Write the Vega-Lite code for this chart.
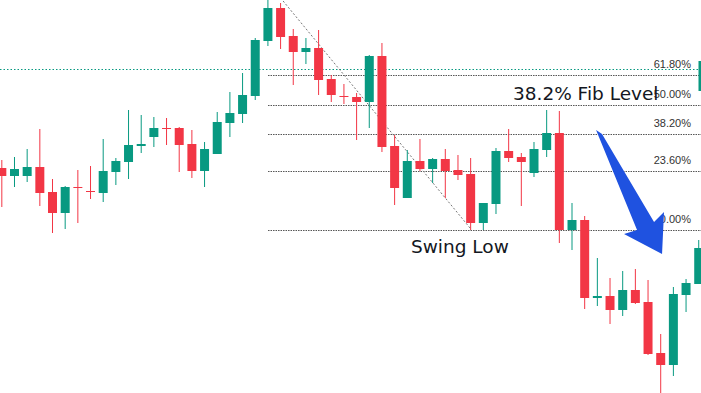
{
  "$schema": "https://vega.github.io/schema/vega-lite/v6.json",
  "width": 701,
  "height": 393,
  "padding": 0,
  "autosize": {"type": "none"},
  "background": "#ffffff",
  "config": {"view": {"stroke": null}},
  "datasets": {
    "candles": [
      {"i":1,"o":225,"h":233,"l":186,"c":217},
      {"i":2,"o":217,"h":236,"l":206,"c":224},
      {"i":3,"o":217,"h":244,"l":211,"c":226},
      {"i":4,"o":226,"h":264,"l":187,"c":200},
      {"i":5,"o":201,"h":214,"l":160,"c":180},
      {"i":6,"o":180,"h":207,"l":164,"c":206},
      {"i":7,"o":206,"h":223,"l":170,"c":205},
      {"i":8,"o":202,"h":227,"l":194,"c":201},
      {"i":9,"o":200,"h":254,"l":191,"c":222},
      {"i":10,"o":221,"h":235,"l":208,"c":232},
      {"i":11,"o":231,"h":283,"l":214,"c":248},
      {"i":12,"o":247,"h":278,"l":240,"c":249},
      {"i":13,"o":256,"h":276,"l":246,"c":265},
      {"i":14,"o":265,"h":275,"l":248,"c":264},
      {"i":15,"o":265,"h":266,"l":221,"c":248},
      {"i":16,"o":249,"h":263,"l":215,"c":222},
      {"i":17,"o":222,"h":251,"l":206,"c":244},
      {"i":18,"o":239,"h":281,"l":239,"c":271},
      {"i":19,"o":270,"h":301,"l":256,"c":280},
      {"i":20,"o":279,"h":320,"l":270,"c":298},
      {"i":21,"o":297,"h":355,"l":293,"c":353},
      {"i":22,"o":352,"h":395,"l":347,"c":385},
      {"i":23,"o":385,"h":390,"l":344,"c":356},
      {"i":24,"o":357,"h":364,"l":308,"c":341},
      {"i":25,"o":341,"h":355,"l":329,"c":345},
      {"i":26,"o":345,"h":363,"l":298,"c":313},
      {"i":27,"o":314,"h":318,"l":291,"c":298},
      {"i":28,"o":297,"h":309,"l":289,"c":296},
      {"i":29,"o":296,"h":300,"l":253,"c":291},
      {"i":30,"o":291,"h":338,"l":265,"c":337},
      {"i":31,"o":337,"h":350,"l":241,"c":246},
      {"i":32,"o":247,"h":258,"l":188,"c":205},
      {"i":33,"o":195,"h":243,"l":195,"c":232},
      {"i":34,"o":232,"h":254,"l":222,"c":224},
      {"i":35,"o":224,"h":235,"l":210,"c":234},
      {"i":36,"o":234,"h":244,"l":195,"c":222},
      {"i":37,"o":223,"h":238,"l":213,"c":218},
      {"i":38,"o":219,"h":235,"l":163,"c":170},
      {"i":39,"o":170,"h":190,"l":163,"c":190},
      {"i":40,"o":189,"h":245,"l":179,"c":242},
      {"i":41,"o":242,"h":264,"l":231,"c":235},
      {"i":42,"o":236,"h":240,"l":187,"c":231},
      {"i":43,"o":220,"h":251,"l":216,"c":244},
      {"i":44,"o":243,"h":283,"l":236,"c":260},
      {"i":45,"o":260,"h":282,"l":150,"c":163},
      {"i":46,"o":163,"h":190,"l":143,"c":173},
      {"i":47,"o":173,"h":177,"l":84,"c":95},
      {"i":48,"o":95,"h":135,"l":87,"c":97},
      {"i":49,"o":97,"h":115,"l":69,"c":83},
      {"i":50,"o":83,"h":122,"l":77,"c":103},
      {"i":51,"o":103,"h":124,"l":89,"c":90},
      {"i":52,"o":91,"h":113,"l":38,"c":39},
      {"i":53,"o":40,"h":59,"l":0,"c":28},
      {"i":54,"o":28,"h":106,"l":17,"c":99},
      {"i":55,"o":98,"h":114,"l":81,"c":110},
      {"i":56,"o":109,"h":153,"l":109,"c":145}
    ],
    "fib": [
      {"label":"0.00%","price":162.5},
      {"label":"23.60%","price":221.5},
      {"label":"38.20%","price":258.5},
      {"label":"50.00%","price":287.5},
      {"label":"61.80%","price":317.5}
    ],
    "notes": [
      {"text":"38.2% Fib Level","i":41.34,"price":293},
      {"text":"Swing Low","i":33.29,"price":140}
    ],
    "one": [{}]
  },
  "encoding": {
    "x": {"type": "quantitative", "scale": {"domain": [0.856, 56.18], "nice": false, "zero": false, "padding": 0}, "axis": null},
    "y": {"type": "quantitative", "scale": {"domain": [0, 393], "nice": false, "zero": false, "padding": 0}, "axis": null}
  },
  "layer": [
    {
      "data": {"name": "one"},
      "mark": {"type": "rule", "stroke": "#089981", "strokeWidth": 1, "strokeDash": [1.5, 2]},
      "encoding": {
        "x": {"datum": 0.856, "type": "quantitative"},
        "x2": {"datum": 56.18},
        "y": {"datum": 323.5, "type": "quantitative"}
      }
    },
    {
      "data": {"name": "fib"},
      "mark": {"type": "rule", "stroke": "#555555", "strokeWidth": 1, "strokeDash": [1.5, 1]},
      "encoding": {
        "x": {"datum": 22.01, "type": "quantitative"},
        "x2": {"datum": 56.18},
        "y": {"field": "price", "type": "quantitative"}
      }
    },
    {
      "data": {"name": "one"},
      "mark": {"type": "rule", "stroke": "#777777", "strokeWidth": 1, "strokeDash": [2, 2]},
      "encoding": {
        "x": {"datum": 23.2, "type": "quantitative"},
        "x2": {"datum": 37.95},
        "y": {"datum": 392, "type": "quantitative"},
        "y2": {"datum": 165}
      }
    },
    {
      "data": {"name": "candles"},
      "mark": {"type": "rule", "strokeWidth": 1},
      "encoding": {
        "x": {"field": "i", "type": "quantitative"},
        "y": {"field": "l", "type": "quantitative"},
        "y2": {"field": "h"},
        "color": {"condition": {"test": "datum.c > datum.o", "value": "#089981"}, "value": "#F23645"}
      }
    },
    {
      "data": {"name": "candles"},
      "mark": {"type": "bar", "size": 9},
      "encoding": {
        "x": {"field": "i", "type": "quantitative"},
        "y": {"field": "o", "type": "quantitative"},
        "y2": {"field": "c"},
        "color": {"condition": {"test": "datum.c > datum.o", "value": "#089981"}, "value": "#F23645"}
      }
    },
    {
      "data": {"name": "one"},
      "mark": {"type": "bar", "size": 4, "color": "#089981"},
      "encoding": {
        "x": {"datum": 56.14, "type": "quantitative"},
        "y": {"datum": 332, "type": "quantitative"},
        "y2": {"datum": 302}
      }
    },
    {
      "data": {"name": "fib"},
      "mark": {"type": "text", "align": "right", "baseline": "alphabetic", "dy": -8, "font": "Liberation Sans", "fontSize": 11, "color": "#333333"},
      "encoding": {
        "x": {"datum": 55.39, "type": "quantitative"},
        "y": {"field": "price", "type": "quantitative"},
        "text": {"field": "label"}
      }
    },
    {
      "data": {"name": "notes"},
      "mark": {"type": "text", "align": "left", "baseline": "alphabetic", "font": "DejaVu Sans", "fontSize": 18.5, "color": "#131722"},
      "encoding": {
        "x": {"field": "i", "type": "quantitative"},
        "y": {"field": "price", "type": "quantitative"},
        "text": {"field": "text"}
      }
    },
    {
      "data": {"name": "one"},
      "mark": {
        "type": "point",
        "filled": true,
        "opacity": 1,
        "color": "#1F52E0",
        "strokeWidth": 0,
        "shape": "M -0.548 -1 L -0.452 -0.935 L 0.387 0.484 L 0.548 0.323 L 0.516 1 L -0.097 0.677 L 0.113 0.613 Z"
      },
      "encoding": {
        "x": {"datum": 50.58, "type": "quantitative"},
        "y": {"datum": 201, "type": "quantitative"},
        "size": {"value": 15376}
      }
    }
  ]
}
